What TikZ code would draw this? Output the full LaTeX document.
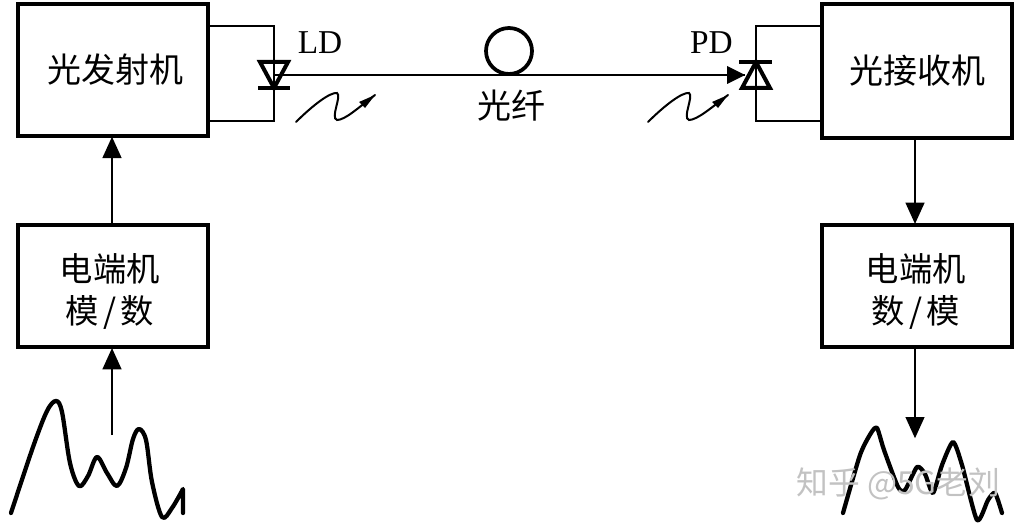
\documentclass[tikz,border=0pt]{standalone}
\usepackage{fontspec}
\setmainfont{Liberation Serif}
\newfontfamily\cjk{Noto Sans CJK SC}
\usetikzlibrary{arrows.meta,calc}
\tikzset{
  x=0.75pt,y=-0.75pt,
  blockbox/.style={draw=black,line width=3pt,minimum width=142.5pt,minimum height=#1,inner sep=0pt,align=center},
  wire/.style={draw=black,line width=1.4pt},
  flow/.style={draw=black,line width=1.8pt,-{Triangle[length=16pt,width=14pt]},shorten >=-1pt},
  fibre/.style={draw=black,line width=1.8pt},
  ray/.style={draw=black,line width=1.5pt,line cap=round},
  rayhead/.style={fill=black,draw=none},
  wave/.style={draw=black,line width=3.2pt,line cap=round,line join=round},
  diode/.style={draw=black,line width=3pt,line join=miter},
  bar/.style={draw=black,line width=3pt},
  lbl/.style={inner sep=0pt,font=\fontsize{25}{27}\selectfont},
  wmark/.style={inner sep=0pt,text=black!24,font=\cjk\fontsize{23.8}{25}\selectfont},
  bigtext/.style={font=\cjk\fontsize{25.5}{27}\selectfont},
  midtext/.style={font=\cjk\fontsize{25}{31.5}\selectfont}
}
\newcommand{\dropline}[1]{\raisebox{-2.2pt}[\height][0pt]{#1}}
\begin{document}
\begin{tikzpicture}
\useasboundingbox (0,0) rectangle (1024,528);
\fill[white] (0,0) rectangle (1024,528);
% blocks
\node[blockbox=99pt,bigtext] (tx) at (113,70) {\hspace*{4pt}\raisebox{-1.5pt}{光发射机}};
\node[blockbox=100pt,bigtext] (rx) at (917,71) {\raisebox{-1pt}{光接收机}};
\node[blockbox=92pt,midtext] (lc) at (113,286) {\dropline{\hspace*{-5pt}电端机}\\\dropline{\hspace*{-5pt}模\hspace{3pt}/\hspace{3pt}数}};
\node[blockbox=92pt,midtext] (rc) at (917,286) {\dropline{\hspace*{-2pt}电端机}\\\dropline{\hspace*{-2pt}数\hspace{3pt}/\hspace{3pt}模}};
% anchor points
\coordinate (txa) at (209,26);
\coordinate (txb) at (209,121);
\coordinate (rxa) at (822,26);
\coordinate (rxb) at (822,121);
\coordinate (ldm) at (274,75);
\coordinate (ldb) at (274,88);
\coordinate (pdt) at (756,62);
\coordinate (pdm) at (745,75);
\coordinate (pdb) at (756,88);
\coordinate (lwave) at (112,435);
\coordinate (rwave) at (915,437);
% LD
\draw[wire] (txa) -| (ldb);
\draw[wire] (txb) -| (ldb);
\draw[diode] (260,62) -- (288,62) -- (ldb) -- cycle;
\draw[bar] (258,88) -- (290,88);
% PD
\draw[wire] (rxa) -| (pdb);
\draw[wire] (rxb) -| (pdb);
\draw[diode] (742,88) -- (770,88) -- (pdt) -- cycle;
\draw[bar] (739,62) -- (772,62);
% fibre
\draw[fibre] (ldm) -- (pdm);
\fill[black] (745,75) -- (727,66) -- (727,84) -- cycle;
\node[circle,draw=black,line width=2.8pt,minimum size=34.5pt,inner sep=0pt] (coil) at (509,51) {};
% labels
\node[lbl] (ld) at (320,43) {LD};
\node[lbl] (pd) at (711.5,43) {PD};
\node[inner sep=0pt,font=\cjk\fontsize{25.5}{27}\selectfont] (fb) at (511,106) {光纤};
% light rays
\draw[ray] (296,122) .. controls (312,106) and (330,92) .. (337,93) .. controls (342,96) and (330,118) .. (337,120) .. controls (345,120) and (358,108) .. (375,95);
\fill[rayhead] (375,95) -- (359,102) -- (365,108) -- cycle;
\draw[ray] (648,122) .. controls (664,106) and (682,92) .. (689,93) .. controls (694,96) and (682,118) .. (689,120) .. controls (697,120) and (711,108) .. (728,95);
\fill[rayhead] (728,95) -- (712,102) -- (718,108) -- cycle;
% arrows
\draw[flow] ([xshift=-0.75pt]lc.north) -- ([xshift=-0.75pt]tx.south);
\draw[flow] (lwave) -- ([xshift=-0.75pt]lc.south);
\draw[flow] ([xshift=-1.5pt]rx.south) -- ([xshift=-1.5pt]rc.north);
\draw[flow] ([xshift=-1.5pt]rc.south) -- (rwave);
% waves
\draw[wave] plot[smooth,tension=0.55] coordinates {(11,513) (33,447) (47,411) (56,401) (62,412) (70,463) (79,486) (88,476) (97,457) (107,473) (117,486) (126,468) (133,439) (139,429) (146,440) (152,482) (162,517) (172,508) (183,489)} -- (183,513);
\draw[wave] plot[smooth,tension=0.4] coordinates {(843,513) (860,455) (871,433) (877,428) (884,450) (898,487) (905,490) (917,467) (925,474) (933,493) (942,465) (953,442) (962,465) (977,520) (988,500) (995,493) (1002,513)};
% watermark
\node[wmark] (wm) at (898.5,484) {知乎 @5G老刘};
\end{tikzpicture}
\end{document}
